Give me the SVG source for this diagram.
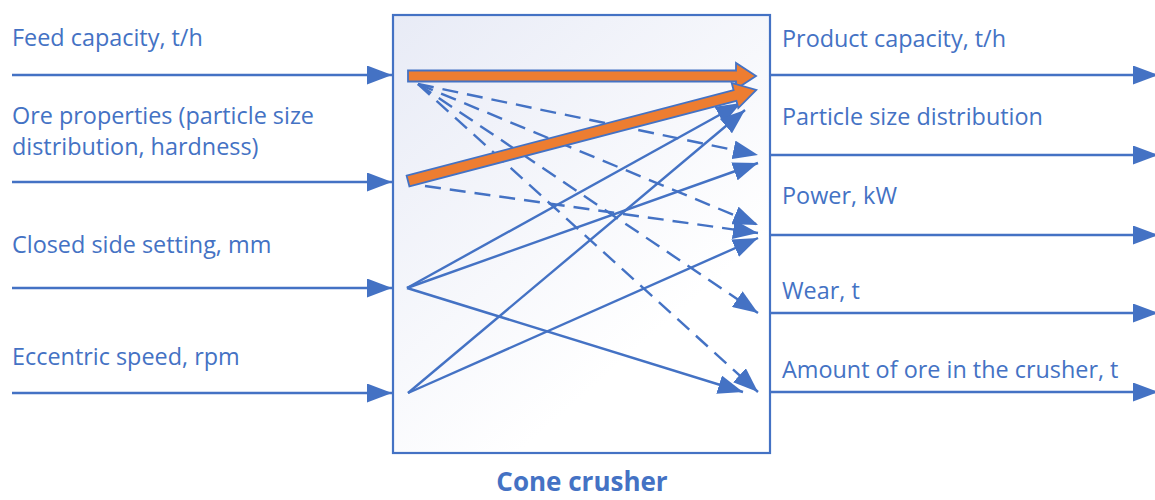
<svg xmlns="http://www.w3.org/2000/svg" width="1155" height="500" viewBox="0 0 1155 500">
  <style>
    .lbl { font-family: "Open Sans", "Liberation Sans", sans-serif; font-size: 23.4px; fill: #4472C4; }
    .title { font-family: "Open Sans", "Liberation Sans", sans-serif; font-size: 26px; font-weight: bold; fill: #4472C4; }
    .flow { stroke: #4472C4; stroke-width: 2.4; fill: none; }
    .dash { stroke: #4472C4; stroke-width: 2.4; fill: none; stroke-dasharray: 16 9; }
    .main { fill: #ED7D31; stroke: #4472C4; stroke-width: 1.8; stroke-linejoin: miter; }
  </style>
  <defs>
    <linearGradient id="boxFill" x1="0" y1="0" x2="0.6" y2="0.8">
      <stop offset="0" stop-color="#E8EBF6"/>
      <stop offset="1" stop-color="#FFFFFF"/>
    </linearGradient>
    <marker id="head" markerUnits="userSpaceOnUse" markerWidth="25" markerHeight="19" refX="25" refY="9.5" orient="auto">
      <path d="M0,0 L25,9.5 L0,19 Z" fill="#4472C4"/>
    </marker>
  </defs>

  <!-- crusher body -->
  <g id="crusher">
    <rect x="393" y="15" width="377" height="438" fill="url(#boxFill)" stroke="#4472C4" stroke-width="2.2"/>
    <text class="title" x="582" y="491" text-anchor="middle">Cone crusher</text>
  </g>

  <!-- input variables -->
  <g id="in-feed">
    <text class="lbl" x="12" y="46">Feed capacity, t/h</text>
  </g>
  <g id="in-ore">
    <text class="lbl" x="12" y="124">Ore properties (particle size</text>
    <text class="lbl" x="12" y="155">distribution, hardness)</text>
  </g>
  <g id="in-css">
    <text class="lbl" x="12" y="253">Closed side setting, mm</text>
  </g>
  <g id="in-speed">
    <text class="lbl" x="12" y="365">Eccentric speed, rpm</text>
  </g>

  <!-- output variables -->
  <g id="out-capacity">
    <text class="lbl" x="782" y="47">Product capacity, t/h</text>
  </g>
  <g id="out-psd">
    <text class="lbl" x="782" y="125">Particle size distribution</text>
  </g>
  <g id="out-power">
    <text class="lbl" x="782" y="204">Power, kW</text>
  </g>
  <g id="out-wear">
    <text class="lbl" x="782" y="299">Wear, t</text>
  </g>
  <g id="out-amount">
    <text class="lbl" x="782" y="378">Amount of ore in the crusher, t</text>
  </g>

  <g id="connectors">
    <!-- inputs into the crusher -->
    <line class="flow" x1="12" y1="75" x2="392" y2="75" marker-end="url(#head)"/>
    <line class="flow" x1="12" y1="182" x2="392" y2="182" marker-end="url(#head)"/>
    <line class="flow" x1="12" y1="288" x2="392" y2="288" marker-end="url(#head)"/>
    <line class="flow" x1="12" y1="393" x2="392" y2="393" marker-end="url(#head)"/>

    <!-- outputs from the crusher -->
    <line class="flow" x1="770" y1="75" x2="1158" y2="75" marker-end="url(#head)"/>
    <line class="flow" x1="770" y1="155" x2="1158" y2="155" marker-end="url(#head)"/>
    <line class="flow" x1="770" y1="235" x2="1158" y2="235" marker-end="url(#head)"/>
    <line class="flow" x1="770" y1="313" x2="1158" y2="313" marker-end="url(#head)"/>
    <line class="flow" x1="770" y1="392" x2="1158" y2="392" marker-end="url(#head)"/>

    <!-- secondary influences (dashed) -->
    <line class="dash" x1="418" y1="84" x2="758" y2="155" marker-end="url(#head)"/>
    <line class="dash" x1="418" y1="84" x2="758" y2="225" marker-end="url(#head)"/>
    <line class="dash" x1="418" y1="84" x2="758" y2="313" marker-end="url(#head)"/>
    <line class="dash" x1="418" y1="84" x2="758" y2="392" marker-end="url(#head)"/>
    <line class="dash" x1="425" y1="186" x2="758" y2="233" marker-end="url(#head)"/>

    <!-- machine settings influences (solid) -->
    <line class="flow" x1="407" y1="288" x2="741" y2="103" marker-end="url(#head)"/>
    <line class="flow" x1="407" y1="288" x2="758" y2="163" marker-end="url(#head)"/>
    <line class="flow" x1="407" y1="288" x2="743" y2="392" marker-end="url(#head)"/>
    <line class="flow" x1="408" y1="393" x2="745" y2="110" marker-end="url(#head)"/>
    <line class="flow" x1="408" y1="393" x2="758" y2="238" marker-end="url(#head)"/>

    <!-- main influences (thick) -->
    <polygon class="main" points="408,70.5 736,70.5 736,63 756,76 736,89 736,81.5 408,81.5"/>
    <polygon class="main" transform="rotate(-14.65 408 181)" points="408,175.5 746,175.5 746,168 768,181 746,194 746,186.5 408,186.5"/>
  </g>
</svg>
